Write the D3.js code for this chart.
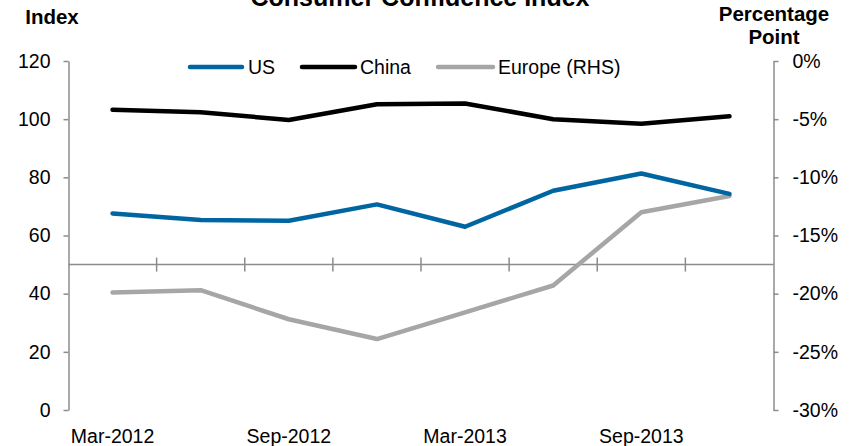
<!DOCTYPE html>
<html>
<head>
<meta charset="utf-8">
<script src="https://cdn.jsdelivr.net/npm/d3@7"></script>
<style>
  html, body { margin: 0; padding: 0; background: #fff; }
  svg { display: block; }
  text { font-family: "Liberation Sans", Arial, sans-serif; fill: #000; }
</style>
</head>
<body>
<svg id="chart" width="858" height="446"></svg>
<script>
// ---- Data ----
const categories = ["Mar-2012","Jun-2012","Sep-2012","Dec-2012","Mar-2013","Jun-2013","Sep-2013","Dec-2013"];
const xTickLabels = ["Mar-2012","Sep-2012","Mar-2013","Sep-2013"];
const usValues     = [67.6, 65.3, 65.1, 70.7, 63.0, 75.4, 81.3, 74.3];
const chinaValues  = [103.2, 102.4, 99.7, 105.1, 105.4, 100.0, 98.4, 101.0];
const europeValues = [-19.9, -19.7, -22.2, -23.9, -21.6, -19.3, -13.0, -11.6]; // percent, RHS
const leftTicks  = [0, 20, 40, 60, 80, 100, 120];
const rightTicks = [-30, -25, -20, -15, -10, -5, 0];
const seriesNames = ["US", "China", "Europe (RHS)"];
const seriesColors = ["#0066A2", "#000000", "#A6A6A6"];
const title = "Consumer Confidence Index";
const leftTitle = "Index";
const rightTitle = ["Percentage", "Point"];

// ---- Layout ----
const svg = d3.select("#chart");
const L = 68.5, R = 773.5, T = 61, B = 410;
const axisColor = "#8C8C8C";
const fs = 19.5;

const x = d3.scaleBand().domain(categories).range([L, R]);
const xc = d => x(d) + x.bandwidth() / 2;
const yL = d3.scaleLinear().domain([0, 120]).range([B, T]);
const yR = d3.scaleLinear().domain([-30, 0]).range([B, T]);
const crossY = yL(50);

// Title
svg.append("text").attr("x", 420).attr("y", 6).attr("text-anchor", "middle")
  .style("font-weight", "bold").style("font-size", "25px").text(title);
svg.append("text").attr("x", 52).attr("y", 24).attr("text-anchor", "middle")
  .style("font-weight", "bold").style("font-size", "20.5px").text(leftTitle);
rightTitle.forEach((t, i) => {
  svg.append("text").attr("x", 774).attr("y", 20.5 + i * 23.5).attr("text-anchor", "middle")
    .style("font-weight", "bold").style("font-size", "20.5px").text(t);
});

// Left axis
const gL = svg.append("g").attr("transform", `translate(${L},0)`)
  .call(d3.axisLeft(yL).tickValues(leftTicks).tickSize(5).tickPadding(13).tickSizeOuter(0));
// Right axis
const gR = svg.append("g").attr("transform", `translate(${R},0)`)
  .call(d3.axisRight(yR).tickValues(rightTicks).tickSize(5).tickPadding(14).tickSizeOuter(0)
    .tickFormat(d => d + "%"));
[gL, gR].forEach(g => {
  g.select(".domain").attr("stroke", axisColor).attr("stroke-width", 1.5);
  g.selectAll(".tick line").attr("stroke", axisColor).attr("stroke-width", 1.5);
  g.selectAll(".tick text").style("font-size", fs + "px").attr("fill", "#000")
    .style("font-family", "'Liberation Sans', Arial, sans-serif");
});

// Horizontal category axis crossing at 50
const gX = svg.append("g").attr("transform", `translate(0,${crossY})`);
gX.append("line").attr("x1", L).attr("x2", R).attr("stroke", axisColor).attr("stroke-width", 1.5);
const boundaries = categories.map(c => x(c)).concat([x(categories[categories.length - 1]) + x.bandwidth()]);
gX.selectAll("line.tk").data(boundaries.slice(1, -1)).join("line").attr("class", "tk")
  .attr("x1", d => d).attr("x2", d => d).attr("y1", -7).attr("y2", 7)
  .attr("stroke", axisColor).attr("stroke-width", 1.5);

// Category labels at bottom
const gXL = svg.append("g").attr("transform", `translate(0,${B + 14})`)
  .call(d3.axisBottom(x).tickValues(xTickLabels).tickSize(0).tickPadding(5));
gXL.select(".domain").remove();
gXL.selectAll(".tick text").style("font-size", fs + "px").attr("fill", "#000")
  .style("font-family", "'Liberation Sans', Arial, sans-serif");

// Lines
const lineL = d3.line().x((d, i) => xc(categories[i])).y(d => yL(d));
const lineR = d3.line().x((d, i) => xc(categories[i])).y(d => yR(d));
const series = [
  { vals: europeValues, gen: lineR, color: seriesColors[2] },
  { vals: usValues, gen: lineL, color: seriesColors[0] },
  { vals: chinaValues, gen: lineL, color: seriesColors[1] }
];
series.forEach(s => {
  svg.append("path").datum(s.vals).attr("d", s.gen).attr("fill", "none")
    .attr("stroke", s.color).attr("stroke-width", 4.5)
    .attr("stroke-linejoin", "round").attr("stroke-linecap", "round");
});

// Legend
const legendPos = [{x1: 190, x2: 242, tx: 248}, {x1: 302, x2: 355, tx: 360}, {x1: 438, x2: 493, tx: 498}];
seriesNames.forEach((n, i) => {
  const p = legendPos[i];
  svg.append("line").attr("x1", p.x1).attr("x2", p.x2).attr("y1", 67).attr("y2", 67)
    .attr("stroke", seriesColors[i]).attr("stroke-width", 4.5).attr("stroke-linecap", "round");
  svg.append("text").attr("x", p.tx).attr("y", 74).style("font-size", fs + "px").text(n);
});
</script>
</body>
</html>
